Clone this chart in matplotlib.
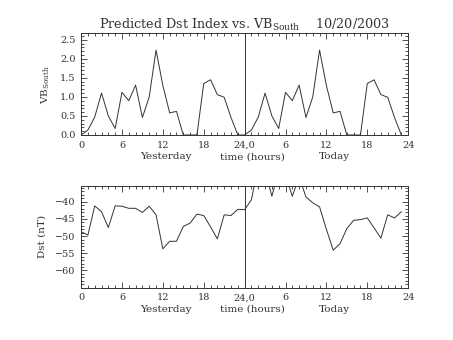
import matplotlib
matplotlib.use("Agg")
import matplotlib.pyplot as plt
import numpy as np
from matplotlib.ticker import MultipleLocator

# hourly values, yesterday (0..23) and today (24..47)
vb_yesterday = [0.0, 0.13, 0.47, 1.10, 0.50, 0.17, 1.12, 0.90, 1.31, 0.46, 1.00, 2.23,
                1.30, 0.58, 0.62, 0.0, 0.0, 0.0, 1.35, 1.45, 1.06, 0.99, 0.46, 0.0]
vb_today = [0.0, 0.13, 0.47, 1.10, 0.50, 0.17, 1.12, 0.90, 1.31, 0.46, 1.00, 2.23,
            1.30, 0.58, 0.62, 0.0, 0.0, 0.0, 1.35, 1.45, 1.06, 0.99, 0.46, 0.0]

dst_yesterday = [-48.7, -49.7, -41.2, -42.9, -47.5, -41.2, -41.3, -41.9, -41.9, -43.1, -41.3, -43.8,
                 -53.7, -51.5, -51.5, -47.2, -46.2, -43.6, -44.0, -47.3, -50.8, -43.8, -44.0, -42.2]
dst_today = [-42.3, -39.4, -29.4, -31.0, -38.4, -31.0, -32.1, -38.4, -32.7, -38.6, -40.3, -41.5,
             -48.0, -54.1, -52.2, -47.8, -45.4, -45.2, -44.7, -47.6, -50.6, -43.8, -44.7, -42.9]

xtick_pos = [0, 6, 12, 18, 24, 30, 36, 42, 48]
xtick_lab = ['0', '6', '12', '18', '24,0', '6', '12', '18', '24']

hours = np.arange(48)
vb = np.array(vb_yesterday + vb_today)
dst = np.array(dst_yesterday + dst_today)

plt.rcParams['font.family'] = ['DejaVu Serif']
ink = '#333333'

fig = plt.figure(figsize=(4.53, 3.4), dpi=100)
ax1 = fig.add_axes([0.179, 0.603, 0.722, 0.299])
ax2 = fig.add_axes([0.179, 0.154, 0.722, 0.299])


def style(ax):
    ax.set_xlim(0, 48)
    ax.set_xticks(xtick_pos)
    ax.set_xticklabels(xtick_lab)
    ax.xaxis.set_minor_locator(MultipleLocator(1))
    ax.tick_params(which='both', direction='in', top=True, right=True,
                   colors=ink, labelsize=7, width=0.6, pad=4)
    ax.tick_params(which='major', length=4)
    ax.tick_params(which='minor', length=2)
    for s in ax.spines.values():
        s.set_color(ink)
        s.set_linewidth(0.7)
    ax.axvline(24, color=ink, lw=0.7)
    ax.text(0.259, -0.215, 'Yesterday', transform=ax.transAxes, ha='center', va='center',
            fontsize=7.5, color=ink)
    ax.text(0.525, -0.215, 'time (hours)', transform=ax.transAxes, ha='center', va='center',
            fontsize=7.5, color=ink)
    ax.text(0.776, -0.215, 'Today', transform=ax.transAxes, ha='center', va='center',
            fontsize=7.5, color=ink)


ax1.plot(hours, vb, color=ink, lw=0.7)
style(ax1)
ax1.set_ylim(0, 2.67)
ax1.yaxis.set_major_locator(MultipleLocator(0.5))
ax1.yaxis.set_minor_locator(MultipleLocator(0.1))
ax1.yaxis.set_major_formatter(matplotlib.ticker.FormatStrFormatter('%.1f'))
ax1.set_ylabel(r'VB$_{\mathregular{South}}$', fontsize=7.5, color=ink, labelpad=6)
ax1.set_title(r'Predicted Dst Index vs. VB$_{\mathregular{South}}$    10/20/2003',
              fontsize=9.2, color=ink, pad=2)

ax2.plot(hours, dst, color=ink, lw=0.7)
style(ax2)
ax2.set_ylim(-65, -35.4)
ax2.yaxis.set_major_locator(MultipleLocator(5))
ax2.yaxis.set_minor_locator(MultipleLocator(1))
ax2.set_yticks([-60, -55, -50, -45, -40])
ax2.set_ylabel('Dst (nT)', fontsize=7.5, color=ink, labelpad=6)

fig.savefig('out.png', dpi=100)
